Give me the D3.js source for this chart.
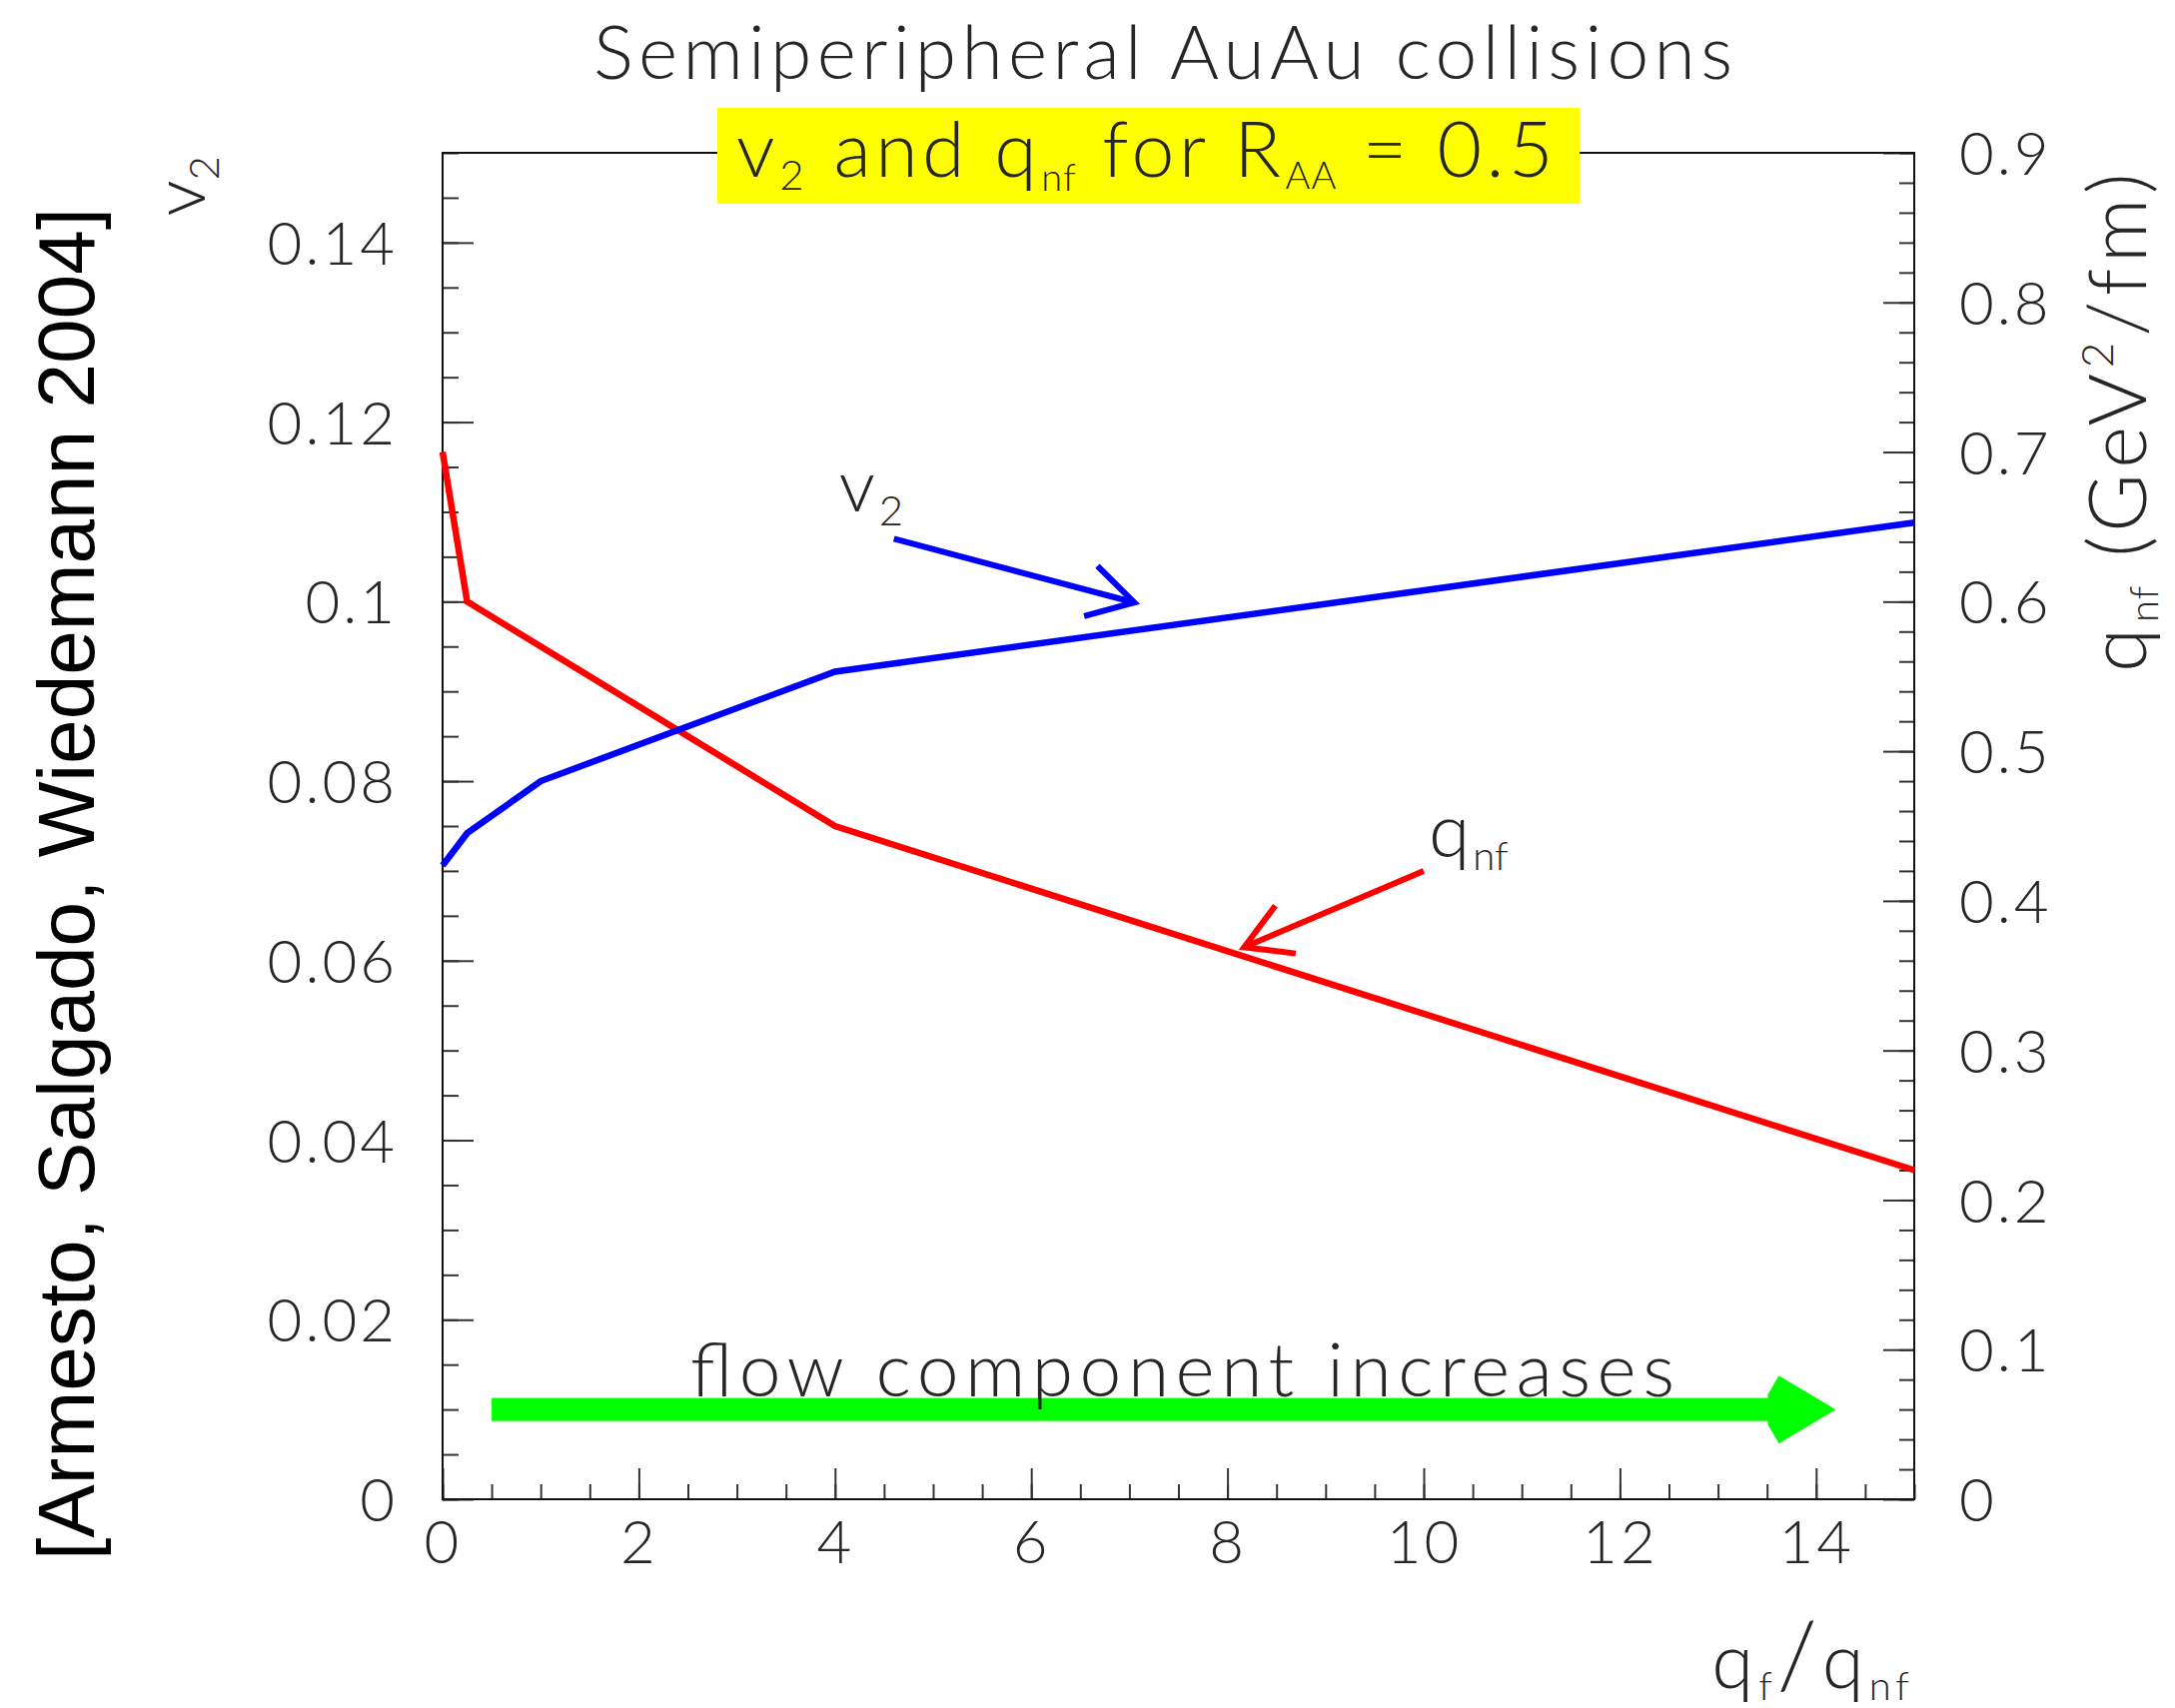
<!DOCTYPE html>
<html>
<head>
<meta charset="utf-8">
<script src="https://cdn.jsdelivr.net/npm/d3@7"></script>
<style>
  html, body { margin: 0; padding: 0; background: #fff; }
  svg { display: block; }
</style>
</head>
<body>
<script>
// v2 and q_nf versus q_f/q_nf for semiperipheral AuAu collisions at R_AA = 0.5
const qRatio = [0, 0.25, 1, 4, 15];           // q_f / q_nf
const v2Values = [0.0706, 0.0742, 0.080, 0.0922, 0.1088];
const qnfValues = [0.70, 0.60, 0.57, 0.45, 0.22]; // GeV^2/fm

const xTicks = [0, 2, 4, 6, 8, 10, 12, 14];
const xTickLabels = ["0", "2", "4", "6", "8", "10", "12", "14"];
const leftTicks = [0, 0.02, 0.04, 0.06, 0.08, 0.10, 0.12, 0.14];
const leftTickLabels = ["0", "0.02", "0.04", "0.06", "0.08", "0.1", "0.12", "0.14"];
const rightTicks = [0, 0.1, 0.2, 0.3, 0.4, 0.5, 0.6, 0.7, 0.8, 0.9];
const rightTickLabels = ["0", "0.1", "0.2", "0.3", "0.4", "0.5", "0.6", "0.7", "0.8", "0.9"];

// annotation arrows: [x, y] in data units
const v2ArrowFrom = [4.6, 0.107], v2ArrowTo = [7.05, 0.0999];      // left axis
const qArrowFrom = [10.0, 0.420], qArrowTo = [8.17, 0.369];        // right axis
const flowArrowFrom = [0.5, 0.01], flowArrowTo = [14.2, 0.01];     // left axis
const v2LabelPos = [4.04, 0.110];
const qLabelPos = [10.05, 0.4293];

const W = 2177, H = 1710;
const X0 = 443, X1 = 1916, Y0 = 153, Y1 = 1501;
const FONT = "Lato, 'Open Sans', 'DejaVu Sans', sans-serif";
const INK = "#262626";

const svg = d3.select("body").append("svg")
  .attr("width", W).attr("height", H)
  .attr("viewBox", `0 0 ${W} ${H}`);

const x = d3.scaleLinear().domain([0, 15]).range([X0, X1]);
const yL = d3.scaleLinear().domain([0, 0.15]).range([Y1, Y0]);
const yR = d3.scaleLinear().domain([0, 0.9]).range([Y1, Y0]);

// ---- axes (ticks point into the frame) ----
function styleAxis(g, size) {
  g.select(".domain").remove();
  g.selectAll(".tick line").attr("stroke", "#333").attr("stroke-width", 2);
  g.selectAll(".tick text")
    .attr("font-family", FONT).attr("font-weight", 300)
    .attr("font-size", size).attr("fill", INK)
    .attr("letter-spacing", 3);
}

// minor ticks
svg.append("g").attr("transform", `translate(${X0},0)`)
  .call(d3.axisLeft(yL).tickValues(d3.range(0, 0.1501, 0.005)).tickSizeInner(-16).tickSizeOuter(0).tickFormat(""))
  .call(g => styleAxis(g, 60));
svg.append("g").attr("transform", `translate(${X1},0)`)
  .call(d3.axisRight(yR).tickValues(d3.range(0, 0.9001, 0.02)).tickSizeInner(-15).tickSizeOuter(0).tickFormat(""))
  .call(g => styleAxis(g, 60));
svg.append("g").attr("transform", `translate(0,${Y1})`)
  .call(d3.axisBottom(x).tickValues(d3.range(0, 15.01, 0.5)).tickSizeInner(-15).tickSizeOuter(0).tickFormat(""))
  .call(g => styleAxis(g, 60));

// major ticks with labels
svg.append("g").attr("transform", `translate(${X0},0)`)
  .call(d3.axisLeft(yL).tickValues(leftTicks).tickSizeInner(-31).tickSizeOuter(0).tickPadding(45)
    .tickFormat((d, i) => leftTickLabels[i]))
  .call(g => styleAxis(g, 60))
  .call(g => g.selectAll(".tick text").attr("dy", "0.36em"));
svg.append("g").attr("transform", `translate(${X1},0)`)
  .call(d3.axisRight(yR).tickValues(rightTicks).tickSizeInner(-31).tickSizeOuter(0).tickPadding(45)
    .tickFormat((d, i) => rightTickLabels[i]))
  .call(g => styleAxis(g, 60))
  .call(g => g.selectAll(".tick text").attr("dy", "0.36em"));
svg.append("g").attr("transform", `translate(0,${Y1})`)
  .call(d3.axisBottom(x).tickValues(xTicks).tickSizeInner(-31).tickSizeOuter(0).tickPadding(21)
    .tickFormat((d, i) => xTickLabels[i]))
  .call(g => styleAxis(g, 60));

// frame
svg.append("rect")
  .attr("x", X0).attr("y", Y0).attr("width", X1 - X0).attr("height", Y1 - Y0)
  .attr("fill", "none").attr("stroke", "#111").attr("stroke-width", 2);

// ---- curves ----
const v2Line = d3.line().x((d, i) => x(qRatio[i])).y(d => yL(d));
const qLine = d3.line().x((d, i) => x(qRatio[i])).y(d => yR(d));

svg.append("path").datum(qnfValues).attr("d", qLine)
  .attr("fill", "none").attr("stroke", "#ff0000").attr("stroke-width", 6.5)
  .attr("stroke-linejoin", "miter");
svg.append("path").datum(v2Values).attr("d", v2Line)
  .attr("fill", "none").attr("stroke", "#0000ff").attr("stroke-width", 6.5)
  .attr("stroke-linejoin", "miter");

// ---- open-headed annotation arrows ----
function openArrow(p0, p1, color) {
  const dx = p1[0] - p0[0], dy = p1[1] - p0[1];
  const a = Math.atan2(dy, dx), L = 52, h = Math.PI / 6;
  const b1 = [p1[0] - L * Math.cos(a - h), p1[1] - L * Math.sin(a - h)];
  const b2 = [p1[0] - L * Math.cos(a + h), p1[1] - L * Math.sin(a + h)];
  const g = svg.append("g").attr("stroke", color).attr("stroke-width", 6).attr("fill", "none");
  g.append("path").attr("d", d3.line()([p0, p1]));
  g.append("path").attr("d", d3.line()([b1, p1, b2])).attr("stroke-linejoin", "miter");
}
openArrow([x(v2ArrowFrom[0]), yL(v2ArrowFrom[1])], [x(v2ArrowTo[0]), yL(v2ArrowTo[1])], "#0000ff");
openArrow([x(qArrowFrom[0]), yR(qArrowFrom[1])], [x(qArrowTo[0]), yR(qArrowTo[1])], "#ff0000");

// ---- thick green arrow ----
{
  const sx = x(flowArrowFrom[0]), sy = yL(flowArrowFrom[1]);
  const tx = x(flowArrowTo[0]), ty = yL(flowArrowTo[1]);
  svg.append("rect")
    .attr("x", sx).attr("y", sy - 11.5).attr("width", tx - 62 - sx).attr("height", 23)
    .attr("fill", "#00ff00");
  const head = [[0, 0], [-57, 34], [-68, 15], [-68, -15], [-57, -34]].map(p => [tx + p[0], ty + p[1]]);
  svg.append("path").attr("d", d3.line()(head) + "Z").attr("fill", "#00ff00");
}

// ---- texts ----
const txt = (sel) => sel.attr("font-family", FONT).attr("font-weight", 300).attr("fill", INK);

svg.append("text").call(txt)
  .attr("x", 594).attr("y", 79).attr("font-size", 75)
  .attr("textLength", 1140).attr("lengthAdjust", "spacing")
  .text("Semiperipheral AuAu collisions");

// subtitle on a yellow box
svg.append("rect").attr("x", 718).attr("y", 108).attr("width", 863).attr("height", 96).attr("fill", "#ffff00");
{
  const t = svg.append("text").call(txt).attr("x", 737).attr("y", 177).attr("font-size", 77).attr("letter-spacing", 4.5);
  t.append("tspan").text("v");
  t.append("tspan").attr("font-size", 42).attr("dy", 13).text("2");
  t.append("tspan").attr("dy", -13).text(" and q");
  t.append("tspan").attr("font-size", 38).attr("dy", 14).attr("letter-spacing", 1).text("nf");
  t.append("tspan").attr("dy", -14).text(" for R");
  t.append("tspan").attr("font-size", 38).attr("dy", 12).attr("letter-spacing", 1).text("AA");
  t.append("tspan").attr("dy", -12).text(" = 0.5");
}

// curve labels
{
  const t = svg.append("text").call(txt)
    .attr("x", x(v2LabelPos[0])).attr("y", yL(v2LabelPos[1])).attr("font-size", 72);
  t.append("tspan").text("v");
  t.append("tspan").attr("font-size", 42).attr("dx", 4).attr("dy", 14).text("2");
}
{
  const t = svg.append("text").call(txt)
    .attr("x", x(qLabelPos[0])).attr("y", yR(qLabelPos[1])).attr("font-size", 75);
  t.append("tspan").text("q");
  t.append("tspan").attr("font-size", 40).attr("dx", 3).attr("dy", 13).text("nf");
}

// flow text
svg.append("text").call(txt)
  .attr("x", 691).attr("y", 1398).attr("font-size", 75)
  .attr("textLength", 985).attr("lengthAdjust", "spacing")
  .text("flow component increases");

// x-axis title
{
  const t = svg.append("text").call(txt)
    .attr("x", X1).attr("y", 1690).attr("font-size", 76).attr("text-anchor", "end")
    .attr("letter-spacing", 5);
  t.append("tspan").text("q");
  t.append("tspan").attr("font-size", 40).attr("dy", 12).text("f");
  t.append("tspan").attr("font-size", 92).attr("dy", -12).text("/");
  t.append("tspan").text("q");
  t.append("tspan").attr("font-size", 40).attr("dy", 12).text("nf");
}

// left axis title
{
  const t = svg.append("text").call(txt)
    .attr("transform", "translate(205,156) rotate(-90)")
    .attr("text-anchor", "end").attr("font-size", 72);
  t.append("tspan").text("v");
  t.append("tspan").attr("font-size", 42).attr("dy", 14).text("2");
}

// right axis title
{
  const t = svg.append("text").call(txt)
    .attr("transform", "translate(2148,673) rotate(-90)")
    .attr("font-size", 80).attr("letter-spacing", 6);
  t.append("tspan").text("q");
  t.append("tspan").attr("font-size", 40).attr("dy", 12).attr("letter-spacing", 1).text("nf");
  t.append("tspan").attr("dy", -12).text(" (GeV");
  t.append("tspan").attr("font-size", 44).attr("dy", -33).text("2");
  t.append("tspan").attr("dy", 33).text("/fm)");
}

// citation
svg.append("text")
  .attr("transform", "translate(94,1562) rotate(-90)")
  .attr("font-family", "'Liberation Sans', Arial, sans-serif")
  .attr("font-size", 80).attr("fill", "#000")
  .attr("textLength", 1354).attr("lengthAdjust", "spacingAndGlyphs")
  .text("[Armesto, Salgado, Wiedemann 2004]");
</script>
</body>
</html>
